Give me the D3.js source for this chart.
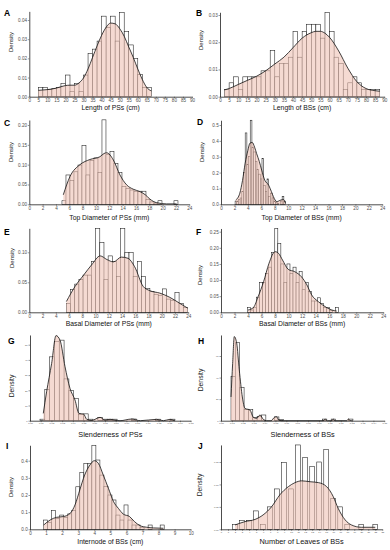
<!DOCTYPE html>
<html>
<head>
<meta charset="utf-8">
<script src="https://cdn.jsdelivr.net/npm/d3@7"></script>
<style>
body { margin: 0; background: #fff; }
svg { display: block; font-family: "Liberation Sans", Arial, sans-serif; }
</style>
</head>
<body>
<script>
// ---- data ----
// A: length of PSs (cm), bins of 2.5 from 5
var psLenStart = 5, psLenWidth = 2.5;
var psLenDens = [.0047,.0047,.0038,.0043,.0047,.007,.0113,.0026,.007,.0026,.0113,.0226,.0248,.029,.042,.036,.042,.029,.044,.034,.027,.02,.0115,.0047,.0047];
var psLenCurveX = [5,7.5,10,12.5,15,17.5,20,22.5,25,27.5,30,32.5,35,37.5,40,42.5,45,47.5,50,52.5,55,57.5,60,62.5,65,67.5];
var psLenCurveY = [.0033,.0035,.0037,.004,.0045,.0052,.0058,.006,.006,.0072,.0098,.0145,.0205,.0265,.032,.0362,.0384,.038,.0355,.0315,.026,.0205,.0145,.009,.0048,.003];

// B: length of BSs (cm)
var bsLenStart = 2.5, bsLenWidth = 2.5;
var bsLenDens = [.0027,.0051,.0073,.0027,.0073,.0073,.0073,.0073,.0095,.0095,.0169,.0073,.0122,.0122,.0145,.0239,.0145,.0239,.0266,.0266,.0266,.0215,.031,.0239,.0145,.0122,.0027,.0051,.0073,.0051,.0027,.0027,.0027,.0027];
var bsLenCurveX = [2.5,5,10,15,20,25,30,35,40,45,50,52.5,55,57.5,60,65,70,75,80,85,87.5];
var bsLenCurveY = [.0025,.003,.0045,.006,.0075,.0095,.012,.0145,.018,.0215,.0235,.024,.024,.0233,.0218,.0168,.0105,.0055,.003,.0022,.002];

// C: top diameter of PSs (mm)
var psTopStart = 4.9, psTopWidth = 0.6;
var psTopDens = [.009,.074,.06,.082,.099,.148,.074,.11,.117,.08,.213,.125,.133,.103,.08,.045,.04,.036,.033,.033,.033,.012,.006,.003,.009,0,0,0,.009];
var psTopCurveX = [5.1,6.1,7.6,9.1,10.6,11.2,11.6,12.6,13.6,14.6,15.6,16.6,17.4,18.1,19.1,20.6,22.1];
var psTopCurveY = [.024,.07,.1,.113,.12,.128,.13,.112,.074,.049,.038,.032,.024,.013,.004,.001,.001];

// D: top diameter of BSs (mm)
var bsTopStart = 2.1, bsTopWidth = 0.25;
var bsTopDens = [.02,.02,.03,.04,.08,.2,.45,.25,.3,.53,.36,.33,.27,.22,.19,.16,.29,.12,.08,.16,.05,.07,.04,.02,.01,.005,0,.02,.05,.02];
var bsTopCurveX = [2.2,2.8,3.2,3.6,4.0,4.3,4.65,5.0,5.3,5.7,6.05,6.5,7.1,7.5,7.8,8.3,8.9,9.3,9.6];
var bsTopCurveY = [.027,.07,.15,.26,.34,.385,.39,.36,.32,.27,.216,.153,.12,.08,.048,.017,.027,.03,.006];

// E: basal diameter of PSs (mm)
var psBaseStart = 5.6, psBaseWidth = 0.63;
var psBaseDens = [.015,.038,.047,.055,.062,.062,.085,.14,.116,.055,.094,.085,.06,.14,.1,.1,.06,.085,.06,.04,.035,.03,.028,.039,.022,.02,.033,.015,.008];
var psBaseCurveX = [5.6,6.9,8.2,9.4,10.7,11.7,12.7,13.9,14.9,15.9,17.2,18.2,19.7,21.2,22.7,23.9];
var psBaseCurveY = [.018,.043,.062,.079,.094,.088,.084,.092,.09,.076,.043,.036,.032,.025,.015,.007];

// F: basal diameter of BSs (mm)
var bsBaseStart = 3.9, bsBaseWidth = 0.45;
var bsBaseDens = [.015,.007,.015,.047,.093,.093,.12,.14,.185,.26,.214,.15,.093,.15,.12,.14,.093,.126,.07,.093,.065,.035,.035,.045,.028,.015,.015,.005,0,.015];
var bsBaseCurveX = [4.0,4.8,5.5,6.3,7.1,8.0,8.5,9.1,9.95,10.9,11.9,12.7,13.4,14.4,15.6,16.4,17.1];
var bsBaseCurveY = [.007,.015,.049,.095,.152,.188,.183,.162,.133,.126,.11,.085,.054,.033,.015,.007,.004];

// G: slenderness of PSs
var psSlStart = 0.0093, psSlWidth = 0.0045;
var psSlDens = [1,20.6,42,52,53,27.5,20,14.5,4,4.5,1,0,2,1,1,1,0,0,0,1.1,0,0,0,0,1,0,0,1];
var psSlCurveX = [.0124,.0155,.0202,.0243,.028,.0327,.0373,.042,.0457,.05,.053,.0576,.0654,.07,.0747,.079,.084,.095,.103,.118,.1245,.1307,.135];
var psSlCurveY = [4.8,19,37.7,56,53,35.5,21.3,13.6,4.8,4.4,.9,.2,2.2,.4,.9,.4,0,1.1,0,.9,0,.9,0];

// H: slenderness of BSs
var bsSlStart = 0.0092, bsSlWidth = 0.004;
var bsSlDens = [40.8,72.3,31,10.5,10.5,3,4,5.3,0,0,3.5,1,0,0,0,0,0,0,0,0,0,1.5,0,1.5,0,0,0,1.5];
var bsSlCurveX = [.0092,.0107,.0122,.0144,.0168,.0196,.022,.0266,.0297,.0328,.0358,.0389,.042,.046,.049,.051,.053,.0557,.094,.0955,.0976,.1016,.1031,.1047,.1154,.117,.1188];
var bsSlCurveY = [22,53,78,72,47,22,11.4,9.9,3.1,2.2,5.3,1.2,0,0,3.1,3.7,.6,0,0,1.5,0,0,1.5,0,0,1.5,0];

// I: internode of BSs (cm)
var bsIntStart = 0.85, bsIntWidth = 0.25;
var bsIntDens = [.054,.04,.109,.064,.083,.07,.09,.109,.248,.33,.385,.385,.49,.404,.316,.25,.2,.171,.083,.054,.142,.054,.025,.025,.012,0,.025,0,0,.025];
var bsIntCurveX = [.85,1.25,1.66,2.07,2.5,2.8,3.1,3.4,3.73,4.0,4.25,4.56,4.88,5.2,5.5,5.8,6.2,6.5,6.85,7.26,7.68,8.3];
var bsIntCurveY = [.025,.054,.07,.074,.093,.142,.23,.316,.375,.4,.385,.316,.239,.161,.122,.089,.074,.045,.021,.012,.008,.006];

// J: number of leaves of BSs (integer counts, bins 0.69 wide)
var leafWidth = 0.69;
var leafCount = [2,3,4,5,6,7,8,9,10,11,12,13,14,15,16,17,18,20,22];
var leafDens = [.0104,.02,.02,.041,.0104,.05,.09,.149,.09,.188,.16,.14,.15,.178,.069,.05,.0104,.0104,.0104];
var leafCurveX = [2,3.4,4.85,6,7.2,8.4,9.6,10.55,11.5,12.7,13.9,15.07,16,16.7,17.7,18.6,20,22];
var leafCurveY = [.0097,.017,.022,.032,.05,.077,.095,.104,.108,.106,.104,.095,.073,.047,.021,.0097,.0045,.0045];

// tick labels
var lenTicks = [0,5,10,15,20,25,30,35,40,45,50,55,60,65,70,75,80,85,90];
var diamTicks = [0,2,4,6,8,10,12,14,16,18,20,22,24];
var slTicks = [0,.01,.02,.03,.04,.05,.06,.07,.08,.09,.10,.11,.12,.13,.14,.15];
var intTicks = [0,1,2,3,4,5,6,7,8,9,10];
var leafTicks = [0,1,2,3,4,5,6,7,8,9,10,11,12,13,14,15,16,17,18,19,20,21,22,23];

var width = 390, height = 550;
var svg = d3.select("body").append("svg").attr("width", width).attr("height", height);

function binsOf(start, w, dens) {
	return dens.map(function(d, i) { return {x0: start + i * w, x1: start + (i + 1) * w, d: d}; });
}

var panels = [
	{ id: "A", bins: binsOf(psLenStart, psLenWidth, psLenDens), cx: psLenCurveX, cy: psLenCurveY,
	  xDom: [0, 90], xTicks: lenTicks, xFmt: d3.format("d"), yTicks: [0,.01,.02,.03,.04], yFmt: d3.format(".2f"),
	  left: 29.3, right: 192, bottom: 96.7, yRef: .04, yRefPx: 20, yMax: .0445,
	  title: "Length of PSs (cm)", titleY: 109.5, letter: [4, 16], dens: [11, 42], tickFs: 4.6, titleFs: 6.8 },
	{ id: "B", bins: binsOf(bsLenStart, bsLenWidth, bsLenDens), cx: bsLenCurveX, cy: bsLenCurveY,
	  xDom: [0, 90], xTicks: lenTicks, xFmt: d3.format("d"), yTicks: [0,.01,.02,.03], yFmt: d3.format(".2f"),
	  left: 220, right: 384.3, bottom: 96.7, yRef: .03, yRefPx: 15, yMax: .031,
	  title: "Length of BSs (cm)", titleY: 109.5, letter: [196, 16], dens: [201, 40], tickFs: 4.6, titleFs: 6.8 },
	{ id: "C", bins: binsOf(psTopStart, psTopWidth, psTopDens), cx: psTopCurveX, cy: psTopCurveY,
	  xDom: [0, 24], xTicks: diamTicks, xFmt: d3.format("d"), yTicks: [0,.05,.1,.15,.2], yFmt: d3.format(".2f"),
	  left: 29.3, right: 189.3, bottom: 204.3, yRef: .2, yRefPx: 125, yMax: .2126,
	  title: "Top Diameter of PSs (mm)", titleY: 219.5, letter: [4, 126], dens: [11, 152], tickFs: 4.6, titleFs: 6.8 },
	{ id: "D", bins: binsOf(bsTopStart, bsTopWidth, bsTopDens), cx: bsTopCurveX, cy: bsTopCurveY,
	  xDom: [0, 24], xTicks: diamTicks, xFmt: d3.format("d"), yTicks: [0,.1,.2,.3,.4,.5], yFmt: d3.format(".1f"),
	  left: 221, right: 382.3, bottom: 204.3, yRef: .5, yRefPx: 125, yMax: .53,
	  title: "Top Diameter of BSs (mm)", titleY: 219.5, letter: [197, 125], dens: [202, 152], tickFs: 4.6, titleFs: 6.8 },
	{ id: "E", bins: binsOf(psBaseStart, psBaseWidth, psBaseDens), cx: psBaseCurveX, cy: psBaseCurveY,
	  xDom: [0, 24], xTicks: diamTicks, xFmt: d3.format("d"), yTicks: [0,.05,.1], yFmt: d3.format(".2f"),
	  left: 29.3, right: 188.3, bottom: 312.3, yRef: .1, yRefPx: 252.3, yMax: .14,
	  title: "Basal Diameter of PSs (mm)", titleY: 325.5, letter: [4, 235], dens: [12, 258], tickFs: 4.6, titleFs: 6.8 },
	{ id: "F", bins: binsOf(bsBaseStart, bsBaseWidth, bsBaseDens), cx: bsBaseCurveX, cy: bsBaseCurveY,
	  xDom: [0, 24], xTicks: diamTicks, xFmt: d3.format("d"), yTicks: [0,.05,.1,.15,.2,.25], yFmt: d3.format(".2f"),
	  left: 221, right: 383.3, bottom: 312.3, yRef: .25, yRefPx: 231.7, yMax: .26,
	  title: "Basal Diameter of BSs (mm)", titleY: 325.5, letter: [196, 235], dens: [200, 275], tickFs: 4.6, titleFs: 6.8 },
	{ id: "G", bins: binsOf(psSlStart, psSlWidth, psSlDens), cx: psSlCurveX, cy: psSlCurveY,
	  xDom: [0, .15], xTicks: slTicks, xFmt: d3.format(".2f"), yTicks: [0,10,20,30,40,50], yFmt: d3.format("d"),
	  left: 30, right: 190.7, bottom: 420.7, yRef: 50, yRefPx: 344.7, yMax: 56.4,
	  title: "Slenderness of PSs", titleY: 436.5, letter: [8, 344], dens: [12, 386], tickFs: 2.4, titleFs: 7.3 },
	{ id: "H", bins: binsOf(bsSlStart, bsSlWidth, bsSlDens), cx: bsSlCurveX, cy: bsSlCurveY,
	  xDom: [0, .15], xTicks: slTicks, xFmt: d3.format(".2f"), yTicks: [0,20,40,60], yFmt: d3.format("d"),
	  left: 221, right: 384.3, bottom: 420.7, yRef: 60, yRefPx: 356, yMax: 79.5,
	  title: "Slenderness of BSs", titleY: 436.5, letter: [198, 344], dens: [201, 380], tickFs: 2.4, titleFs: 7.3 },
	{ id: "I", bins: binsOf(bsIntStart, bsIntWidth, bsIntDens), cx: bsIntCurveX, cy: bsIntCurveY,
	  xDom: [0, 10], xTicks: intTicks, xFmt: d3.format("d"), yTicks: [0,.1,.2,.3,.4], yFmt: d3.format(".1f"),
	  left: 30, right: 190.7, bottom: 529.3, yRef: .4, yRefPx: 460.7, yMax: .49,
	  title: "Internode of BSs (cm)", titleY: 543.5, letter: [6, 449], dens: [11, 487], tickFs: 4.6, titleFs: 6.8 },
	{ id: "J", bins: leafCount.map(function(n, i) { return {x0: n - leafWidth / 2, x1: n + leafWidth / 2, d: leafDens[i]}; }),
	  cx: leafCurveX, cy: leafCurveY,
	  xDom: [0, 23], xTicks: leafTicks, xFmt: d3.format("d"), yTicks: [0,.05,.1,.15], yFmt: d3.format(".2f"),
	  left: 221, right: 382.3, bottom: 529.3, yRef: .15, yRefPx: 462, yMax: .188,
	  title: "Number of Leaves of BSs", titleY: 543.5, letter: [198, 449], dens: [200, 485], tickFs: 2.4, titleFs: 7.4 }
];

function drawPanel(p) {
	var pxPer = (p.bottom - p.yRefPx) / p.yRef;
	var x = d3.scaleLinear().domain(p.xDom).range([p.left, p.right]);
	var y = d3.scaleLinear().domain([0, p.yMax]).range([p.bottom, p.bottom - p.yMax * pxPer]);
	var g = svg.append("g").attr("class", "panel-" + p.id);

	// histogram bars
	g.selectAll("rect").data(p.bins.filter(function(b) { return b.d > 0; }))
		.enter().append("rect")
		.attr("x", function(b) { return x(b.x0); })
		.attr("width", function(b) { return x(b.x1) - x(b.x0); })
		.attr("y", function(b) { return y(b.d); })
		.attr("height", function(b) { return y(0) - y(b.d); })
		.attr("fill", "#fff")
		.attr("stroke", "#1a1a1a")
		.attr("stroke-width", 0.55);

	// density area + line
	var pts = p.cx.map(function(v, i) { return [v, p.cy[i]]; });
	g.append("path").datum(pts)
		.attr("d", d3.area().x(function(d) { return x(d[0]); }).y0(y(0)).y1(function(d) { return y(d[1]); }).curve(d3.curveMonotoneX))
		.attr("fill", "#eebfb1")
		.attr("fill-opacity", 0.58);
	g.append("path").datum(pts)
		.attr("d", d3.line().x(function(d) { return x(d[0]); }).y(function(d) { return y(d[1]); }).curve(d3.curveMonotoneX))
		.attr("fill", "none")
		.attr("stroke", "#111")
		.attr("stroke-width", 0.8);

	// axes
	var xa = g.append("g").attr("transform", "translate(0," + p.bottom + ")")
		.call(d3.axisBottom(x).tickValues(p.xTicks).tickFormat(p.xFmt).tickSize(1.5).tickSizeOuter(0).tickPadding(0.6));
	var ya = g.append("g").attr("transform", "translate(" + p.left + ",0)")
		.call(d3.axisLeft(y).tickValues(p.yTicks).tickFormat(p.yFmt).tickSize(1.5).tickSizeOuter(0).tickPadding(0.8));
	[xa, ya].forEach(function(a) {
		a.select(".domain").attr("stroke", "#000").attr("stroke-width", 0.7);
		a.selectAll(".tick line").attr("stroke", "#333").attr("stroke-width", 0.5);
		a.selectAll(".tick text").attr("fill", "#4d4d4d").style("font-size", p.tickFs + "px").attr("font-family", null);
	});

	// labels
	g.append("text").attr("x", (p.left + p.right) / 2).attr("y", p.titleY)
		.attr("text-anchor", "middle").style("font-size", p.titleFs + "px").attr("fill", "#111").text(p.title);
	g.append("text").attr("transform", "translate(" + p.dens[0] + "," + p.dens[1] + ") rotate(-90)")
		.attr("text-anchor", "middle").attr("dy", "0.35em")
		.style("font-size", (p.tickFs < 3 ? 6.8 : 6) + "px").attr("fill", "#111").text("Density");
	g.append("text").attr("x", p.letter[0]).attr("y", p.letter[1])
		.style("font-size", "8.5px").style("font-weight", "bold").attr("fill", "#000").text(p.id);
}

panels.forEach(drawPanel);
</script>
</body>
</html>
